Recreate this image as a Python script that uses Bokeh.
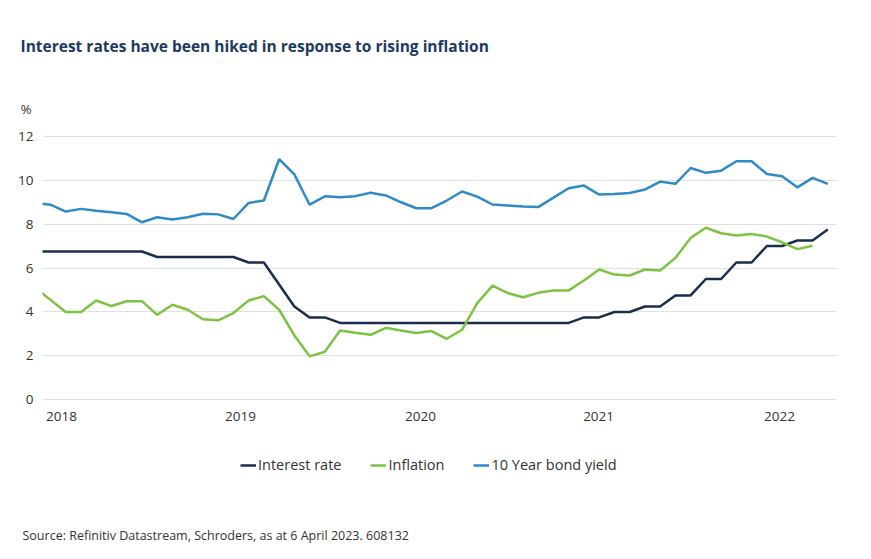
from bokeh.plotting import figure
from bokeh.layouts import column
from bokeh.models import Range1d, FixedTicker, Title, Legend, LegendItem, ColumnDataSource
from bokeh.embed import file_html
from bokeh.resources import INLINE

# Monthly observations, Nov 2018 .. Mar 2023 (as drawn)
months = ["2018-11", "2018-12",
          "2019-01", "2019-02", "2019-03", "2019-04", "2019-05", "2019-06",
          "2019-07", "2019-08", "2019-09", "2019-10", "2019-11", "2019-12",
          "2020-01", "2020-02", "2020-03", "2020-04", "2020-05", "2020-06",
          "2020-07", "2020-08", "2020-09", "2020-10", "2020-11", "2020-12",
          "2021-01", "2021-02", "2021-03", "2021-04", "2021-05", "2021-06",
          "2021-07", "2021-08", "2021-09", "2021-10", "2021-11", "2021-12",
          "2022-01", "2022-02", "2022-03", "2022-04", "2022-05", "2022-06",
          "2022-07", "2022-08", "2022-09", "2022-10", "2022-11", "2022-12",
          "2023-01", "2023-02", "2023-03"]

interest_rate = [6.75, 6.75, 6.75, 6.75, 6.75, 6.75, 6.75, 6.75,
                 6.5, 6.5, 6.5, 6.5, 6.5, 6.5,
                 6.25, 6.25, 5.25, 4.25, 3.75, 3.75,
                 3.5, 3.5, 3.5, 3.5, 3.5, 3.5, 3.5, 3.5, 3.5, 3.5, 3.5, 3.5,
                 3.5, 3.5, 3.5, 3.5,
                 3.75, 3.75, 4.0, 4.0, 4.25, 4.25, 4.75, 4.75, 5.5, 5.5,
                 6.25, 6.25, 7.0, 7.0, 7.25, 7.25, 7.75]

inflation = [5.1, 4.55, 4.0, 4.0, 4.52, 4.27, 4.49, 4.49, 3.87, 4.33, 4.1, 3.67,
             3.62, 3.95, 4.52, 4.72, 4.1, 2.93, 1.98, 2.19, 3.16, 3.05, 2.96, 3.28,
             3.16, 3.04, 3.13, 2.78, 3.19, 4.4, 5.2, 4.86, 4.67, 4.87, 4.98, 4.98,
             5.43, 5.93, 5.7, 5.66, 5.93, 5.89, 6.46, 7.37, 7.83, 7.58, 7.48, 7.55,
             7.43, 7.17, 6.86, 7.01]

bond_yield = [8.95, 8.88, 8.57, 8.69, 8.6, 8.54, 8.46, 8.08, 8.31, 8.21, 8.31, 8.47,
              8.44, 8.23, 8.96, 9.07, 10.95, 10.26, 8.88, 9.26, 9.22, 9.27, 9.42, 9.30,
              8.99, 8.72, 8.72, 9.07, 9.48, 9.25, 8.89, 8.84, 8.8, 8.77, 9.2, 9.63,
              9.75, 9.34, 9.37, 9.41, 9.57, 9.93, 9.83, 10.55, 10.33, 10.43, 10.86, 10.86,
              10.28, 10.17, 9.67, 10.1, 9.83]

series_names = ["Interest rate", "Inflation", "10 Year bond yield"]
year_labels = ["2018", "2019", "2020", "2021", "2022"]
year_tick_pos = [0.72, 12.47, 24.28, 35.96, 47.83]
y_ticks = [0, 2, 4, 6, 8, 10, 12]

NAVY = "#1b2d4f"
GREEN = "#7dc242"
BLUE = "#2f8ac6"
COLORS = [NAVY, GREEN, BLUE]
TEXT = "#333333"
FONT = "Open Sans"

x_all = [i - 1 for i in range(len(months))]
sources = [ColumnDataSource(dict(x=x_all, y=interest_rate)),
           ColumnDataSource(dict(x=x_all[:len(inflation)], y=inflation)),
           ColumnDataSource(dict(x=x_all, y=bond_yield))]

X0, X1 = -0.525, 51.57
Y0, Y1 = -0.12, 12.12

W = 855
H1 = 430
H2 = 120

p = figure(width=W, height=H1, output_backend="svg", toolbar_location=None,
           x_range=Range1d(X0, X1), y_range=Range1d(Y0, Y1),
           min_border_left=42, min_border_right=19, min_border_top=133, min_border_bottom=28,
           background_fill_color="white", border_fill_color="white")
p.outline_line_color = None

for s, c in zip(sources, COLORS):
    p.line("x", "y", source=s, line_color=c, line_width=2.5)

# axes
p.xaxis.ticker = FixedTicker(ticks=year_tick_pos)
p.xaxis.major_label_overrides = {t: l for t, l in zip(year_tick_pos, year_labels)}
p.yaxis.ticker = FixedTicker(ticks=y_ticks)
for ax in (p.xaxis[0], p.yaxis[0]):
    ax.axis_line_color = None
    ax.major_tick_line_color = None
    ax.minor_tick_line_color = None
    ax.major_label_text_font = FONT
    ax.major_label_text_font_size = "13.5px"
    ax.major_label_text_color = TEXT
p.xaxis.major_label_standoff = 3
p.yaxis.major_label_standoff = 3

p.xgrid.grid_line_color = None
p.ygrid.ticker = FixedTicker(ticks=y_ticks)
p.ygrid.grid_line_color = "#e0e0e0"
p.ygrid.grid_line_width = 1

# titles
p.title.text = "Interest rates have been hiked in response to rising inflation"
p.title.text_font = FONT
p.title.text_font_size = "15.5px"
p.title.text_font_style = "bold"
p.title.text_color = "#1d3a5f"
p.title.align = "left"
p.title.offset = -22
p.title.standoff = 51

p.add_layout(Title(text="%", text_font=FONT, text_font_size="13.5px", text_font_style="normal",
                   text_color=TEXT, align="left", offset=-22, standoff=31), "above")

# legend + source panel (series drawn out of view, used as legend entries)
q = figure(width=W, height=H2, output_backend="svg", toolbar_location=None,
           x_range=Range1d(X0, X1), y_range=Range1d(100, 101),
           x_axis_type=None, y_axis_type=None,
           min_border_left=42, min_border_right=19, min_border_top=0, min_border_bottom=30,
           background_fill_color="white", border_fill_color="white")
q.outline_line_color = None
q.xgrid.visible = False
q.ygrid.visible = False

proxies = [q.line("x", "y", source=s, line_color=c, line_width=2.5) for s, c in zip(sources, COLORS)]
legend = Legend(items=[LegendItem(label=n, renderers=[r]) for n, r in zip(series_names, proxies)],
                orientation="horizontal", location=(198, 43),
                label_text_font=FONT, label_text_font_size="14.5px", label_text_color=TEXT,
                glyph_width=16, glyph_height=16, label_height=16, label_standoff=2, spacing=29,
                padding=0, margin=0, border_line_color=None, background_fill_alpha=0)
q.add_layout(legend, "center")

q.add_layout(Title(text="Source: Refinitiv Datastream, Schroders, as at 6 April 2023. 608132",
                   text_font=FONT, text_font_size="12.5px", text_font_style="normal",
                   text_color=TEXT, align="left", offset=-20, standoff=14), "below")

open("out.html", "w").write(file_html(column(p, q, spacing=0), INLINE))
